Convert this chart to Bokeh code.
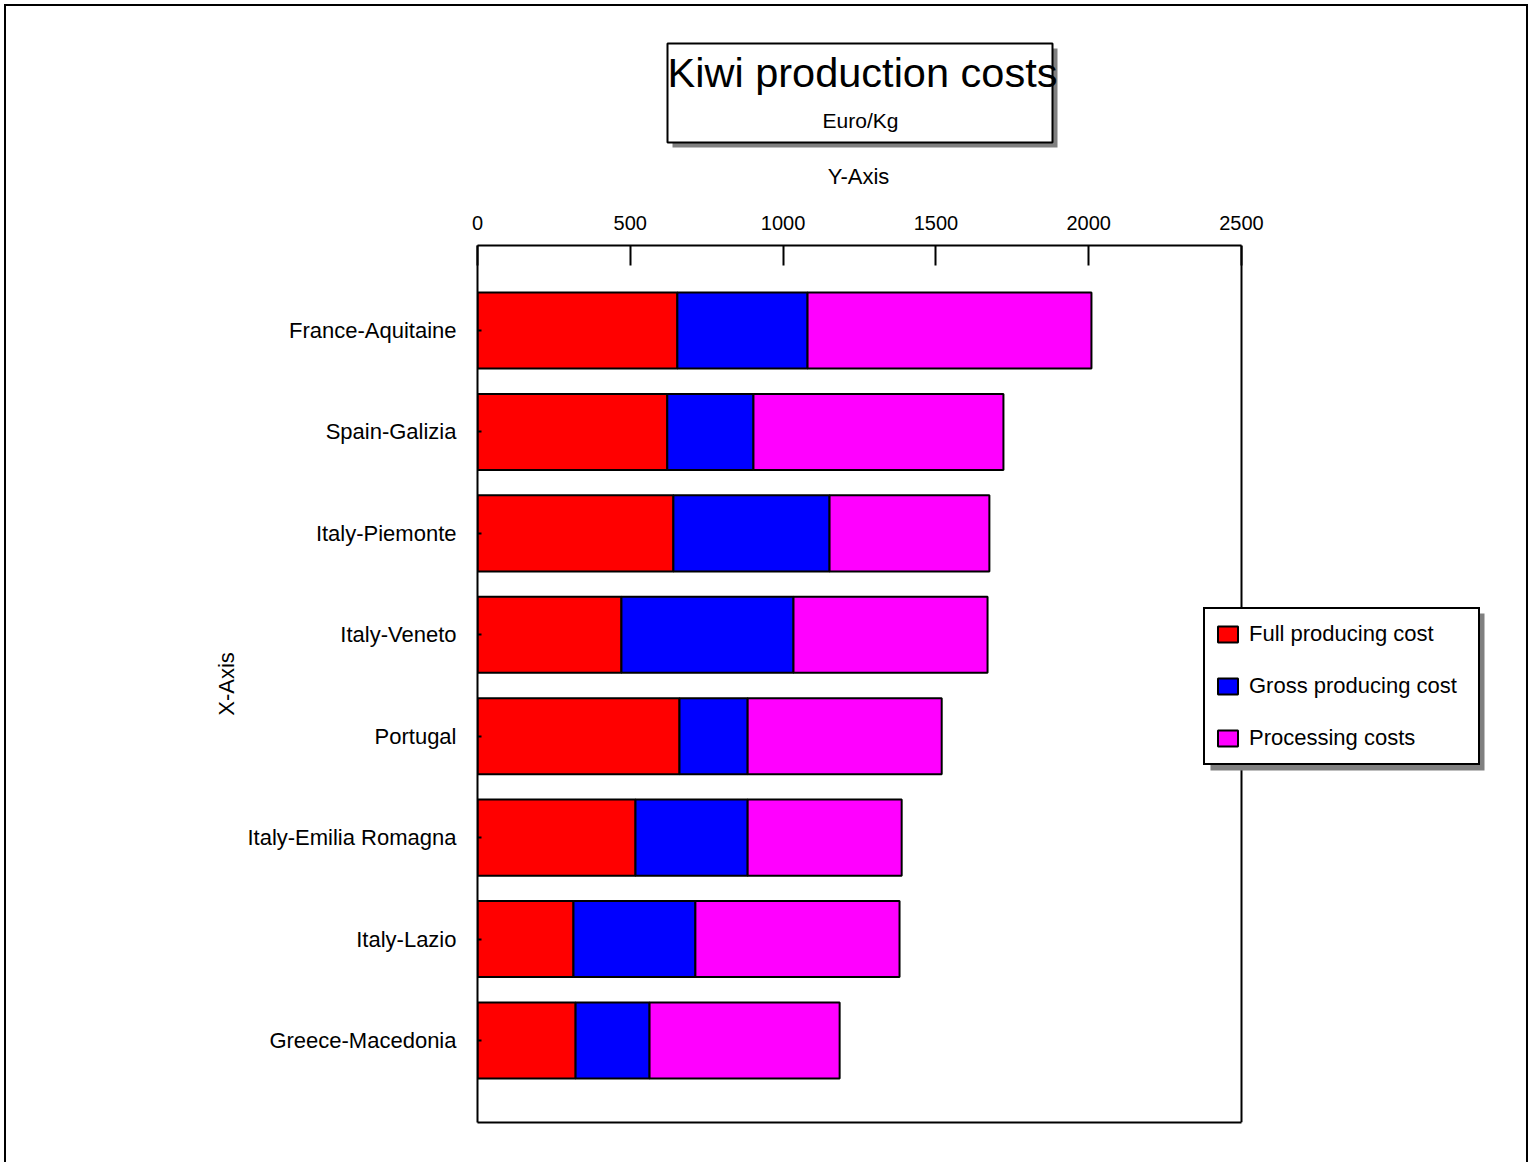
from bokeh.plotting import figure
from bokeh.layouts import column
from bokeh.models import (Range1d, FixedTicker, LinearAxis, BoxAnnotation, Label, Span,
                          Legend, LegendItem, ColumnDataSource)
from bokeh.embed import file_html
from bokeh.resources import INLINE

# ---------------- data ----------------
categories = ["France-Aquitaine", "Spain-Galizia", "Italy-Piemonte", "Italy-Veneto",
              "Portugal", "Italy-Emilia Romagna", "Italy-Lazio", "Greece-Macedonia"]
full_producing = [654, 621, 641, 471, 661, 517, 314, 321]
gross_producing = [426, 282, 511, 563, 223, 367, 399, 242]
processing = [929, 818, 523, 635, 635, 504, 668, 622]
series_names = ["Full producing cost", "Gross producing cost", "Processing costs"]
series_colors = ["#ff0000", "#0000ff", "#ff00ff"]
x_ticks = [0, 500, 1000, 1500, 2000, 2500]

title_text = "Kiwi production costs"
subtitle_text = "Euro/Kg"
x_axis_title = "Y-Axis"
y_axis_title = "X-Axis"

# ---------------- geometry (page pixels) ----------------
OX, OY = 6, 6            # content origin (inside css border)
W = 1520                 # content width
TH = 190                 # title strip height
MTOP = OY + TH           # main figure top on page
MH = 966                 # main figure height
FL, FT, FB = 477, 245, 1122   # frame left / top / bottom on page
BOX_R = 1241                  # right edge of plotted box on page
X_MAX = 2500
XPU = (BOX_R - FL) / X_MAX
X_END = (OX + W - FL) / XPU
n = len(categories)
ypos = [n - 1 - i for i in range(n)]
YPU = (1040 - 330) / (n - 1)
Y_END = (n - 1) + (330 - FT) / YPU
Y_START = Y_END - (FB - FT) / YPU

def dx(px):
    return (px - FL) / XPU

def dy(py):
    return Y_END - (py - FT) / YPU

FONT = "Liberation Sans"

# ---------------- title strip (frame aligned with main frame) ----------------
tf = figure(width=W, height=TH, x_range=Range1d(FL, OX + W), y_range=Range1d(-(OY + TH), -OY),
            x_axis_location=None, y_axis_location=None, output_backend="svg",
            toolbar_location=None, min_border=0)
tf.grid.visible = False
tf.outline_line_color = None
tf.add_layout(BoxAnnotation(left=672, right=1057, top=-48, bottom=-147,
                            fill_color="#808080", fill_alpha=1, line_color=None))
tf.add_layout(BoxAnnotation(left=667, right=1052, top=-43, bottom=-142,
                            fill_color="white", fill_alpha=1, line_color="black",
                            line_alpha=1, line_width=2))
tf.add_layout(Label(x=862, y=-72, text=title_text, text_align="center", text_baseline="middle",
                    text_font=FONT, text_font_size="41.5px", text_color="black"))
tf.add_layout(Label(x=860, y=-120, text=subtitle_text, text_align="center", text_baseline="middle",
                    text_font=FONT, text_font_size="21px", text_color="black"))
tf.add_layout(Label(x=858, y=-176, text=x_axis_title, text_align="center", text_baseline="middle",
                    text_font=FONT, text_font_size="22px", text_color="black"))

# ---------------- main chart ----------------
src = ColumnDataSource(dict(y=ypos, full=full_producing, gross=gross_producing, proc=processing))

p = figure(width=W, height=MH, x_range=Range1d(0, X_END), y_range=Range1d(Y_START, Y_END),
           x_axis_location="above", output_backend="svg", toolbar_location=None,
           min_border_left=FL - OX, min_border_top=FT - MTOP,
           min_border_right=0, min_border_bottom=MTOP + MH - FB)
p.grid.visible = False
p.outline_line_color = None

renderers = p.hbar_stack(["full", "gross", "proc"], y="y", height=0.75, source=src,
                         fill_color=series_colors, line_color="black", line_width=2)

xa = p.xaxis[0]
xa.ticker = FixedTicker(ticks=x_ticks)
xa.bounds = (0, X_MAX)
xa.axis_line_color = "black"
xa.axis_line_width = 2
xa.major_tick_line_color = "black"
xa.major_tick_line_width = 2
xa.major_tick_in = 20
xa.major_tick_out = 0
xa.minor_tick_line_color = None
xa.major_label_text_font = FONT
xa.major_label_text_font_size = "20px"
xa.major_label_text_color = "black"
xa.major_label_standoff = 16

ya = p.yaxis[0]
ya.ticker = FixedTicker(ticks=ypos)
ya.major_label_overrides = {ypos[i]: categories[i] for i in range(n)}
ya.axis_label = y_axis_title
ya.axis_line_color = "black"
ya.axis_line_width = 2
ya.major_tick_line_color = "black"
ya.major_tick_line_width = 2
ya.major_tick_in = 4
ya.major_tick_out = 0
ya.minor_tick_line_color = None
ya.major_label_text_font = FONT
ya.major_label_text_font_size = "22px"
ya.major_label_text_color = "black"
ya.major_label_standoff = 21
ya.axis_label_text_font = FONT
ya.axis_label_text_font_size = "22px"
ya.axis_label_text_font_style = "normal"
ya.axis_label_text_color = "black"
ya.axis_label_standoff = 5

# bottom and right edges of the plotted box
bottom_edge = LinearAxis(ticker=FixedTicker(ticks=[]), bounds=(0, X_MAX),
                         axis_line_color="black", axis_line_width=2,
                         major_tick_line_color=None, minor_tick_line_color=None,
                         major_label_text_font_size="0px")
p.add_layout(bottom_edge, "below")
p.add_layout(Span(location=X_MAX, dimension="height", line_color="black", line_width=2))

# legend with shadow
LEG_L, LEG_T, LEG_H = 1203, 608, 157
p.add_layout(BoxAnnotation(left=dx(LEG_L + 7), right=dx(1484), top=dy(LEG_T + 5),
                           bottom=dy(LEG_T + LEG_H + 5),
                           fill_color="#808080", fill_alpha=1, line_color=None))
legend = Legend(items=[LegendItem(label=series_names[i], renderers=[renderers[i]]) for i in range(3)],
                location=(LEG_L - FL, FB - (LEG_T + LEG_H)),
                border_line_color="black", border_line_alpha=1, border_line_width=2,
                background_fill_color="white", background_fill_alpha=1,
                label_text_font=FONT, label_text_font_size="22px", label_text_color="black",
                glyph_width=25, glyph_height=20, label_height=30, label_width=219,
                label_standoff=9, spacing=22, padding=10, margin=0)
p.add_layout(legend)

layout = column(tf, p, spacing=0,
                styles={"border-top": "2px solid black", "border-left": "2px solid black",
                        "border-right": "2px solid black", "margin-left": "4px",
                        "margin-top": "4px"})

open("out.html", "w").write(file_html(layout, INLINE))
